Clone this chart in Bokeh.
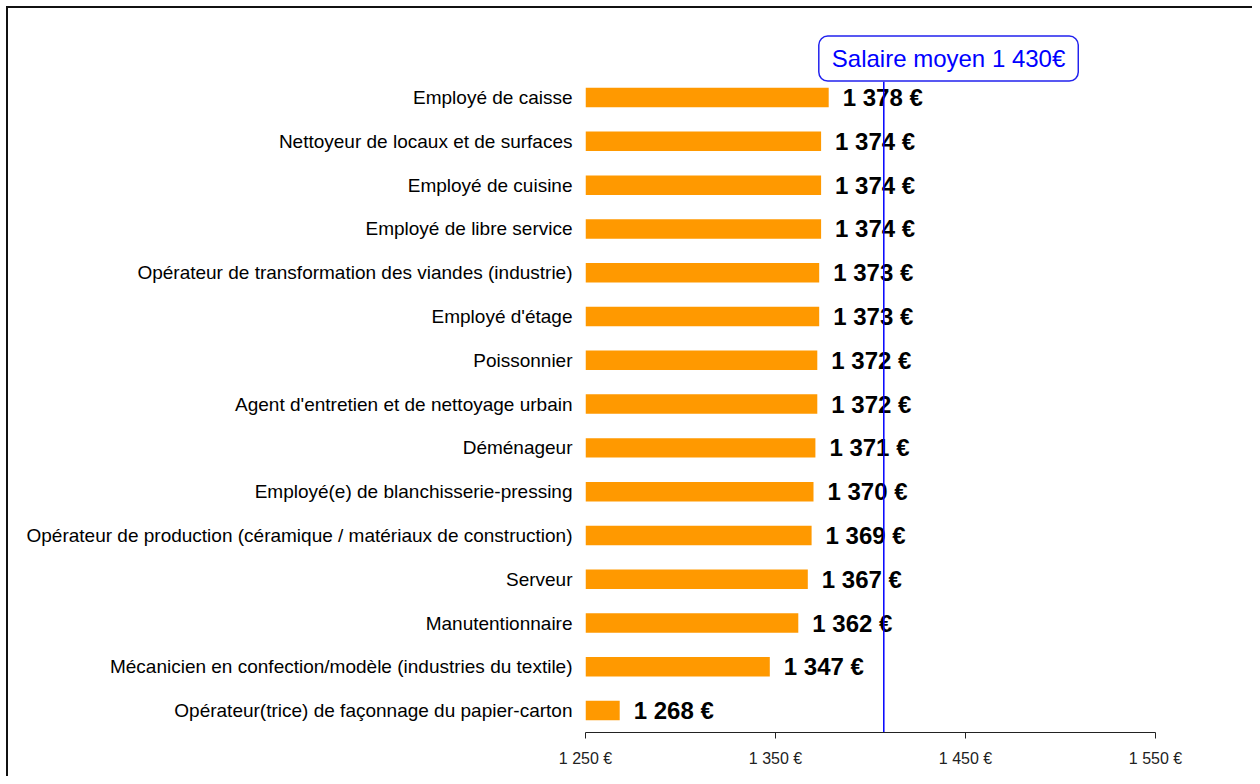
from bokeh.plotting import figure
from bokeh.models import Range1d, FixedTicker, Label, ColumnDataSource
from bokeh.core.properties import value
from bokeh.embed import file_html
from bokeh.resources import INLINE

# ---- data (top to bottom as shown) ----
categories = [
    "Employé de caisse",
    "Nettoyeur de locaux et de surfaces",
    "Employé de cuisine",
    "Employé de libre service",
    "Opérateur de transformation des viandes (industrie)",
    "Employé d'étage",
    "Poissonnier",
    "Agent d'entretien et de nettoyage urbain",
    "Déménageur",
    "Employé(e) de blanchisserie-pressing",
    "Opérateur de production (céramique / matériaux de construction)",
    "Serveur",
    "Manutentionnaire",
    "Mécanicien en confection/modèle (industries du textile)",
    "Opérateur(trice) de façonnage du papier-carton",
]
salaries = [1378, 1374, 1374, 1374, 1373, 1373, 1372, 1372, 1371, 1370, 1369, 1367, 1362, 1347, 1268]
value_labels = ["1 378 €", "1 374 €", "1 374 €", "1 374 €", "1 373 €", "1 373 €", "1 372 €",
                "1 372 €", "1 371 €", "1 370 €", "1 369 €", "1 367 €", "1 362 €", "1 347 €", "1 268 €"]
x_ticks = [1250, 1350, 1450, 1550]
x_tick_labels = ["1 250 €", "1 350 €", "1 450 €", "1 550 €"]
avg_line_pos = 1407
avg_label = "Salaire moyen 1 430€"

n = len(categories)
ypos = [n - 1 - i for i in range(n)]

W, H = 1246, 770
FONT = "Liberation Sans"

p = figure(width=W, height=H, output_backend="svg", toolbar_location=None,
           x_range=Range1d(1250, 1550), y_range=Range1d(-0.5, 15.76),
           min_border_left=577, min_border_right=W - 1147,
           min_border_top=12, min_border_bottom=H - 724)
p.styles = {"border-top": "2px solid #111", "border-left": "2px solid #111",
            "margin-left": "6px", "margin-top": "6px"}
p.outline_line_color = None
p.background_fill_color = "white"
p.border_fill_color = "white"
p.xgrid.visible = False
p.ygrid.visible = False

src = ColumnDataSource(dict(y=ypos, v=salaries, lab=value_labels, base=[1250] * n))
p.hbar(y="y", left="base", right="v", height=0.445, source=src,
       fill_color="#FF9900", line_color=None)
p.text(x="v", y="y", text="lab", source=src, x_offset=14,
       text_baseline="middle", text_align="left",
       text_font=value(FONT), text_font_size="24px", text_font_style="bold",
       text_color="black")

p.segment(x0=[avg_line_pos], x1=[avg_line_pos], y0=[-0.5], y1=[14.36],
          line_color="#0000FF", line_width=1.5)

lbl = Label(x=avg_line_pos, y=14.89, text=avg_label, x_offset=-65,
            text_align="left", text_baseline="middle",
            text_font=FONT, text_font_size="24px", text_color="#0000FF",
            background_fill_color="white", border_line_color="#2222EE",
            border_line_width=1.5, padding=(13, 9), border_radius=9)
p.add_layout(lbl)

# x axis
xa = p.xaxis[0]
xa.ticker = FixedTicker(ticks=x_ticks)
xa.major_label_overrides = {t: s for t, s in zip(x_ticks, x_tick_labels)}
xa.minor_tick_line_color = None
xa.major_tick_in = 0
xa.major_tick_out = 6
xa.axis_line_color = "#222222"
xa.major_tick_line_color = "#222222"
xa.major_label_text_font = FONT
xa.major_label_text_font_size = "16px"
xa.major_label_text_color = "#222222"
xa.major_label_standoff = 11

# y axis
ya = p.yaxis[0]
ya.ticker = FixedTicker(ticks=ypos)
ya.major_label_overrides = {y: c for y, c in zip(ypos, categories)}
ya.axis_line_color = None
ya.major_tick_line_color = None
ya.minor_tick_line_color = None
ya.major_label_standoff = 7
ya.major_label_text_font = FONT
ya.major_label_text_font_size = "19px"
ya.major_label_text_color = "black"

open("out.html", "w").write(file_html(p, INLINE))
